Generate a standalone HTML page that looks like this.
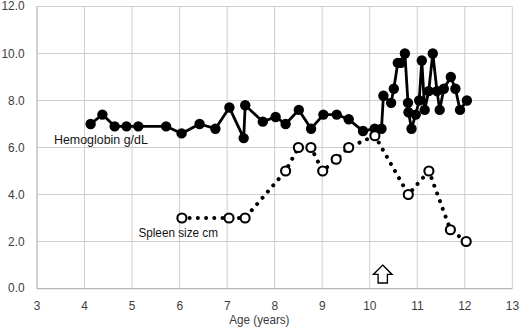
<!DOCTYPE html>
<html lang="en"><head><meta charset="utf-8"><title>Hemoglobin and spleen size by age</title>
<style>html,body{margin:0;padding:0;background:#fff;}body{width:520px;height:327px;overflow:hidden;}svg{display:block;}text{font-family:"Liberation Sans",sans-serif;}</style></head><body>
<svg width="520" height="327" viewBox="0 0 520 327">
<rect x="0" y="0" width="520" height="327" fill="#ffffff"/>
<g stroke="#cecece" stroke-width="1" fill="none">
<line x1="37.00" y1="6.50" x2="37.00" y2="288.50"/>
<line x1="84.53" y1="6.50" x2="84.53" y2="288.50"/>
<line x1="132.06" y1="6.50" x2="132.06" y2="288.50"/>
<line x1="179.59" y1="6.50" x2="179.59" y2="288.50"/>
<line x1="227.12" y1="6.50" x2="227.12" y2="288.50"/>
<line x1="274.65" y1="6.50" x2="274.65" y2="288.50"/>
<line x1="322.18" y1="6.50" x2="322.18" y2="288.50"/>
<line x1="369.71" y1="6.50" x2="369.71" y2="288.50"/>
<line x1="417.24" y1="6.50" x2="417.24" y2="288.50"/>
<line x1="464.77" y1="6.50" x2="464.77" y2="288.50"/>
<line x1="512.30" y1="6.50" x2="512.30" y2="288.50"/>
<line x1="37.00" y1="288.50" x2="512.30" y2="288.50"/>
<line x1="37.00" y1="241.50" x2="512.30" y2="241.50"/>
<line x1="37.00" y1="194.50" x2="512.30" y2="194.50"/>
<line x1="37.00" y1="147.50" x2="512.30" y2="147.50"/>
<line x1="37.00" y1="100.50" x2="512.30" y2="100.50"/>
<line x1="37.00" y1="53.50" x2="512.30" y2="53.50"/>
<line x1="37.00" y1="6.50" x2="512.30" y2="6.50"/>
</g>
<line x1="37.15" y1="6.00" x2="37.15" y2="288.50" stroke="#cccccc" stroke-width="1.5"/>
<line x1="37.00" y1="288.50" x2="512.30" y2="288.50" stroke="#b4b4b4" stroke-width="1.25"/>
<g font-size="11.9" fill="#3d3d3d" text-anchor="end">
<text transform="translate(24.6,292) scale(1.0,1)">0.0</text>
<text transform="translate(24.6,246) scale(1.0,1)">2.0</text>
<text transform="translate(24.6,199) scale(1.0,1)">4.0</text>
<text transform="translate(24.6,152) scale(1.0,1)">6.0</text>
<text transform="translate(24.6,105) scale(1.0,1)">8.0</text>
<text transform="translate(24.6,58) scale(1.0,1)">10.0</text>
<text transform="translate(24.6,10) scale(1.0,1)">12.0</text>
</g>
<g font-size="11.9" fill="#3d3d3d" text-anchor="middle">
<text transform="translate(37.10,310) scale(1.0,1)">3</text>
<text transform="translate(84.63,310) scale(1.0,1)">4</text>
<text transform="translate(132.16,310) scale(1.0,1)">5</text>
<text transform="translate(179.69,310) scale(1.0,1)">6</text>
<text transform="translate(227.22,310) scale(1.0,1)">7</text>
<text transform="translate(274.75,310) scale(1.0,1)">8</text>
<text transform="translate(322.28,310) scale(1.0,1)">9</text>
<text transform="translate(369.81,310) scale(1.0,1)">10</text>
<text transform="translate(417.34,310) scale(1.0,1)">11</text>
<text transform="translate(464.87,310) scale(1.0,1)">12</text>
<text transform="translate(512.40,310) scale(1.0,1)">13</text>
</g>
<text x="229.3" y="324" font-size="12.2" fill="#3d3d3d" textLength="60.2" lengthAdjust="spacingAndGlyphs">Age (years)</text>
<text x="54.0" y="144.3" font-size="12.2" fill="#141414" textLength="93.8" lengthAdjust="spacingAndGlyphs">Hemoglobin g/dL</text>
<text x="138.4" y="237.2" font-size="12.2" fill="#141414" textLength="79.6" lengthAdjust="spacingAndGlyphs">Spleen size cm</text>
<polyline points="90.6,124.00 102.4,114.60 114.7,126.35 126.5,126.35 138.3,126.35 166.1,126.35 181.6,133.40 199.6,124.00 215.4,128.70 229.4,107.55 243.7,138.10 245.2,105.20 262.8,121.65 275.6,116.95 285.6,124.00 298.8,109.90 311.1,128.70 323.4,114.60 336.7,114.60 348.7,119.30 363.0,131.05 374.7,128.70 381.5,128.70 383.4,95.80 391.1,102.85 393.8,88.75 397.8,62.90 401.0,62.90 404.9,53.50 408.0,102.85 408.5,112.25 411.5,128.70 415.7,114.60 419.2,100.50 421.8,60.55 424.7,109.90 428.7,91.10 432.8,53.50 437.0,91.10 439.7,109.90 443.8,88.75 450.8,77.00 455.4,88.75 460.0,109.90 466.9,100.50" fill="none" stroke="#000" stroke-width="2.8" stroke-linejoin="round" stroke-linecap="round"/>
<g fill="#000">
<circle cx="90.6" cy="124.00" r="5.2"/>
<circle cx="102.4" cy="114.60" r="5.2"/>
<circle cx="114.7" cy="126.35" r="5.2"/>
<circle cx="126.5" cy="126.35" r="5.2"/>
<circle cx="138.3" cy="126.35" r="5.2"/>
<circle cx="166.1" cy="126.35" r="5.2"/>
<circle cx="181.6" cy="133.40" r="5.2"/>
<circle cx="199.6" cy="124.00" r="5.2"/>
<circle cx="215.4" cy="128.70" r="5.2"/>
<circle cx="229.4" cy="107.55" r="5.2"/>
<circle cx="243.7" cy="138.10" r="5.2"/>
<circle cx="245.2" cy="105.20" r="5.2"/>
<circle cx="262.8" cy="121.65" r="5.2"/>
<circle cx="275.6" cy="116.95" r="5.2"/>
<circle cx="285.6" cy="124.00" r="5.2"/>
<circle cx="298.8" cy="109.90" r="5.2"/>
<circle cx="311.1" cy="128.70" r="5.2"/>
<circle cx="323.4" cy="114.60" r="5.2"/>
<circle cx="336.7" cy="114.60" r="5.2"/>
<circle cx="348.7" cy="119.30" r="5.2"/>
<circle cx="363.0" cy="131.05" r="5.2"/>
<circle cx="374.7" cy="128.70" r="5.2"/>
<circle cx="381.5" cy="128.70" r="5.2"/>
<circle cx="383.4" cy="95.80" r="5.2"/>
<circle cx="391.1" cy="102.85" r="5.2"/>
<circle cx="393.8" cy="88.75" r="5.2"/>
<circle cx="397.8" cy="62.90" r="5.2"/>
<circle cx="401.0" cy="62.90" r="5.2"/>
<circle cx="404.9" cy="53.50" r="5.2"/>
<circle cx="408.0" cy="102.85" r="5.2"/>
<circle cx="408.5" cy="112.25" r="5.2"/>
<circle cx="411.5" cy="128.70" r="5.2"/>
<circle cx="415.7" cy="114.60" r="5.2"/>
<circle cx="419.2" cy="100.50" r="5.2"/>
<circle cx="421.8" cy="60.55" r="5.2"/>
<circle cx="424.7" cy="109.90" r="5.2"/>
<circle cx="428.7" cy="91.10" r="5.2"/>
<circle cx="432.8" cy="53.50" r="5.2"/>
<circle cx="437.0" cy="91.10" r="5.2"/>
<circle cx="439.7" cy="109.90" r="5.2"/>
<circle cx="443.8" cy="88.75" r="5.2"/>
<circle cx="450.8" cy="77.00" r="5.2"/>
<circle cx="455.4" cy="88.75" r="5.2"/>
<circle cx="460.0" cy="109.90" r="5.2"/>
<circle cx="466.9" cy="100.50" r="5.2"/>
</g>
<polyline points="181.9,218.00 229.0,218.00 245.1,218.00 285.6,171.00 298.4,147.50 310.9,147.50 322.7,171.00 336.2,159.25 348.7,147.50 374.9,135.75 408.3,194.50 428.9,171.00 450.4,229.75 466.2,241.50" fill="none" stroke="#000" stroke-width="4.0" stroke-linecap="round" stroke-linejoin="round" stroke-dasharray="0.01 8.202" stroke-dashoffset="0.46"/>
<g fill="#fff" stroke="#000" stroke-width="2.1">
<circle cx="181.9" cy="218.00" r="4.55"/>
<circle cx="229.0" cy="218.00" r="4.55"/>
<circle cx="245.1" cy="218.00" r="4.55"/>
<circle cx="285.6" cy="171.00" r="4.55"/>
<circle cx="298.4" cy="147.50" r="4.55"/>
<circle cx="310.9" cy="147.50" r="4.55"/>
<circle cx="322.7" cy="171.00" r="4.55"/>
<circle cx="336.2" cy="159.25" r="4.55"/>
<circle cx="348.7" cy="147.50" r="4.55"/>
<circle cx="374.9" cy="135.75" r="4.55"/>
<circle cx="408.3" cy="194.50" r="4.55"/>
<circle cx="428.9" cy="171.00" r="4.55"/>
<circle cx="450.4" cy="229.75" r="4.55"/>
<circle cx="466.2" cy="241.50" r="4.55"/>
</g>
<path d="M382.7 265.1 L392.0 274.4 L387.4 274.4 L387.4 283.0 L378.1 283.0 L378.1 274.4 L373.4 274.4 Z" fill="#fff" stroke="#000" stroke-width="1.35" stroke-linejoin="miter"/>
</svg></body></html>
